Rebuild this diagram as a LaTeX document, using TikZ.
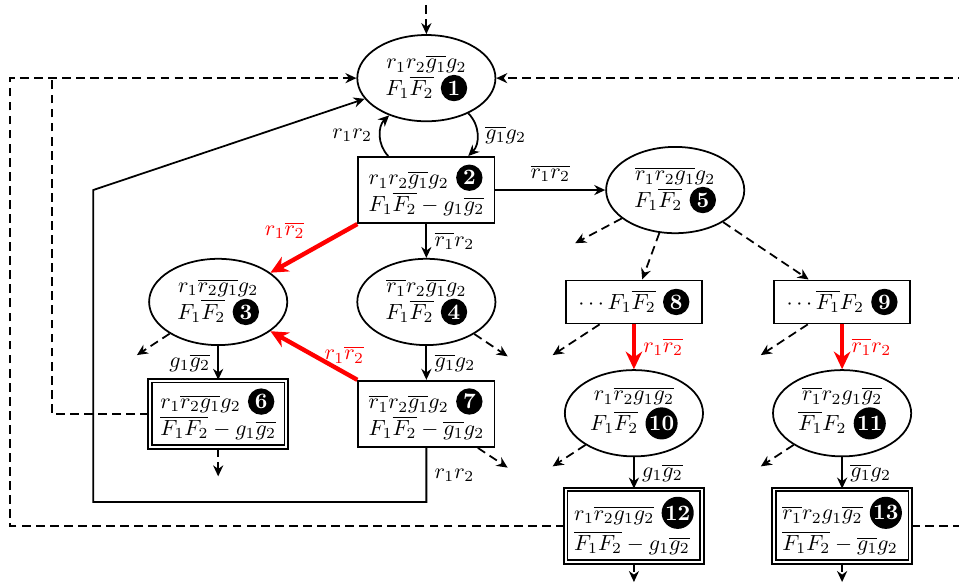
\documentclass[tikz,border=0pt]{standalone}
\usepackage{amsmath, amssymb}
\usepackage{tikz}
\usetikzlibrary{arrows.meta,positioning,shapes.geometric}
\usepackage{xcolor}

\newcommand{\cnum}[1]{\tikz[baseline=(cn.base)]\node[circle,fill=black,text=white,inner sep=0.5pt,minimum size=12pt,font=\bfseries] (cn) {#1};}

\begin{document}
\begin{tikzpicture}[
			st/.style={ellipse,draw,thick,minimum width=2.21cm,minimum height=1.38cm,inner sep=1pt,align=center},
			bx/.style={rectangle,draw,thick,minimum width=2.18cm,minimum height=1.06cm,align=left},
			fin/.style={bx,double,double distance=0.8pt},
			edge/.style={thick,-{Stealth[length=5pt,width=4.6pt]}},
			dedge/.style={edge,dashed,dash pattern=on 4pt off 2.4pt},
			redge/.style={red,line width=2pt,-{Stealth[length=8pt,width=7.5pt]}}
		]
		\clip (0,0) rectangle (15.34,-9.36);

		\node[st] (n1) at (6.82,-1.25) {$r_1r_2\overline{g_1}g_2$\\$F_1\overline{F_2}$ \cnum{1}};
		\node[bx] (n2) at (6.82,-3.04) {$r_1r_2\overline{g_1}g_2$ \cnum{2}\\$F_1\overline{F_2}-g_1\overline{g_2}$};
		\node[st] (n5) at (10.8,-3.04) {$\overline{r_1r_2g_1}g_2$\\$F_1\overline{F_2}$ \cnum{5}};

		\node[st] (n3) at (3.49,-4.83) {$r_1\overline{r_2g_1}g_2$\\$F_1\overline{F_2}$ \cnum{3}};
		\node[st] (n4) at (6.82,-4.83) {$\overline{r_1}r_2\overline{g_1}g_2$\\$F_1\overline{F_2}$ \cnum{4}};
		\node[bx,minimum height=0.69cm] (n8) at (10.14,-4.83) {$\cdots F_1\overline{F_2}$ \cnum{8}};
		\node[bx,minimum height=0.69cm] (n9) at (13.47,-4.83) {$\cdots \overline{F_1}F_2$ \cnum{9}};

		\node[fin] (n6) at (3.49,-6.62) {$r_1\overline{r_2g_1}g_2$ \cnum{6}\\$\overline{F_1F_2}-g_1\overline{g_2}$};
		\node[bx] (n7) at (6.82,-6.62) {$\overline{r_1}r_2\overline{g_1}g_2$ \cnum{7}\\$F_1\overline{F_2}-\overline{g_1}g_2$};
		\node[st] (n10) at (10.14,-6.61) {$r_1\overline{r_2g_1g_2}$\\$F_1\overline{F_2}$ \cnum{10}};
		\node[st] (n11) at (13.47,-6.61) {$\overline{r_1}r_2g_1\overline{g_2}$\\$\overline{F_1}F_2$ \cnum{11}};

		\node[fin] (n12) at (10.14,-8.41) {$r_1\overline{r_2g_1g_2}$ \cnum{12}\\$\overline{F_1F_2}-g_1\overline{g_2}$};
		\node[fin] (n13) at (13.47,-8.41) {$\overline{r_1}r_2g_1\overline{g_2}$ \cnum{13}\\$\overline{F_1F_2}-\overline{g_1}g_2$};

		% loose ends
		\coordinate (t1) at (6.82,-0.08);
		\coordinate (s5) at ([shift={(-1.6,-0.85)}]n5.center);
		\coordinate (s4) at ([shift={(1.3,-0.87)}]n4.center);
		\coordinate (s7) at ([shift={(1.3,-0.86)}]n7.center);
		\coordinate (s6) at ([yshift=-1cm]n6.center);
		\coordinate (s12) at ([yshift=-0.9cm]n12.center);
		\coordinate (s13) at ([yshift=-0.9cm]n13.center);
		\coordinate (c7a) at (1.49,-8.03);
		\coordinate (c7b) at (1.49,-3.04);
		\coordinate (l6) at (0.83,-1.25);
		\coordinate (l12) at (0.16,-1.25);
		\coordinate (r13) at (15.6,-1.25);

		\draw[edge] ([xshift=-0.61cm]n2.north) to[bend left=45] node[left] {$r_1r_2$} (n1.225);
		\draw[edge] (n1.320) to[bend left=45] node[right] {$\overline{g_1}g_2$} ([xshift=0.67cm]n2.north);
		\draw[edge] (n2) -- node[above] {$\overline{r_1r_2}$} (n5);
		\draw[edge] (n2) -- node[right] {$\overline{r_1}r_2$} (n4);
		\draw[redge] (n2.south west) -- node[above left] {$r_1\overline{r_2}$} (n3);
		\draw[redge] (n7.north west) -- node[pos=0.15,above=0pt] {$r_1\overline{r_2}$} (n3);
		\draw[edge] (n3) -- node[left] {$g_1\overline{g_2}$} (n6);
		\draw[edge] (n4) -- node[right] {$\overline{g_1}g_2$} (n7);
		\draw[edge] (n7.south) |- node[pos=0.25,right] {$r_1r_2$} (c7a) -- (c7b) -- (n1);
		\draw[redge] (n8) -- node[right] {$r_1\overline{r_2}$} (n10);
		\draw[redge] (n9) -- node[right] {$\overline{r_1}r_2$} (n11);
		\draw[edge] (n10) -- node[right] {$g_1\overline{g_2}$} (n12);
		\draw[edge] (n11) -- node[right] {$\overline{g_1}g_2$} (n13);

		% dashed
		\draw[dedge] (t1) -- (n1);
		\draw[dedge] (n5) -- (n8);
		\draw[dedge] (n5) -- (n9);
		\draw[dedge] (n5) -- (s5);
		\draw[dedge] (n4) -- (s4);
		\draw[dedge] (n7) -- (s7);
		\draw[dedge] (n6) -- (s6);
		\draw[dedge] (n12) -- (s12);
		\draw[dedge] (n13) -- (s13);
		\foreach \n in {3,8,9,10,11} {
			\coordinate (s\n) at ([shift={(-1.3,-0.85)}]n\n.center);
			\draw[dedge] (n\n) -- (s\n);
		}
		\draw[dashed,thick,dash pattern=on 4pt off 2.4pt] (n6.west) -| (l6);
		\draw[dedge] (n12.west) -| (l12) -- (n1.west);
		\draw[dedge] (n13.east) -| (r13) -- (n1.east);

	\end{tikzpicture}
\end{document}
